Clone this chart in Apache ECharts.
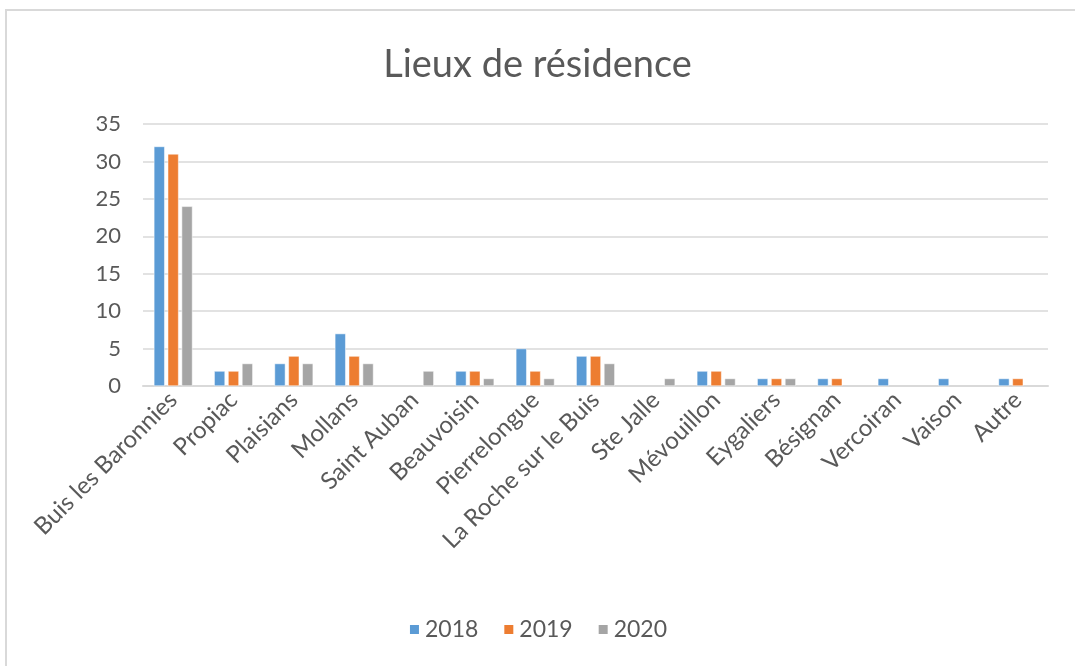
<!DOCTYPE html>
<html>
<head>
<meta charset="utf-8">
<script src="https://cdn.jsdelivr.net/npm/echarts@6/dist/echarts.min.js"></script>
<style>
  html, body { margin: 0; padding: 0; background: #fff; }
  #frame {
    position: absolute; left: 5px; top: 9px; width: 1070px; height: 657px;
    border-left: 2px solid #d9d9d9; border-top: 2px solid #d9d9d9;
  }
  #chart { position: absolute; left: 0; top: 0; width: 1075px; height: 666px; }
</style>
</head>
<body>
<div id="frame"></div>
<div id="chart"></div>
<script>
// données
const lieux = ['Buis les Baronnies', 'Propiac', 'Plaisians', 'Mollans', 'Saint Auban', 'Beauvoisin',
  'Pierrelongue', 'La Roche sur le Buis', 'Ste Jalle', 'Mévouillon', 'Eygaliers', 'Bésignan',
  'Vercoiran', 'Vaison', 'Autre']
const v2018 = [32, 2, 3, 7, null, 2, 5, 4, null, 2, 1, 1, 1, 1, 1]
const v2019 = [31, 2, 4, 4, null, 2, 2, 4, null, 2, 1, 1, null, null, 1]
const v2020 = [24, 3, 3, 3, 2, 1, 1, 3, 1, 1, 1, null, null, null, null]
const yTicks = [0, 5, 10, 15, 20, 25, 30, 35]

const font = 'Lato, "Open Sans", sans-serif'
const chart = echarts.init(document.getElementById('chart'))

const barStyle = (color) => ({ color: color, borderColor: '#fff', borderWidth: 0.5 })

chart.setOption({
  animation: false,
  textStyle: { fontFamily: font },
  title: {
    text: 'Lieux de résidence',
    left: 'center',
    top: 41,
    textStyle: { fontFamily: font, fontSize: 38, fontWeight: 'normal', color: '#595959' }
  },
  legend: {
    bottom: 20,
    left: 'center',
    itemWidth: 11,
    itemHeight: 11,
    itemGap: 24,
    icon: 'rect',
    textStyle: { fontFamily: font, fontSize: 23, color: '#595959' },
    data: ['2018', '2019', '2020']
  },
  grid: { left: 143, right: 27, top: 124, bottom: 280, containLabel: false },
  xAxis: {
    type: 'category',
    data: lieux,
    axisLine: { lineStyle: { color: '#d9d9d9', width: 2 } },
    axisTick: { show: false },
    axisLabel: {
      rotate: 45,
      interval: 0,
      margin: 10,
      fontFamily: font,
      fontSize: 24,
      color: '#595959'
    }
  },
  yAxis: {
    type: 'value',
    min: 0,
    max: 35,
    interval: 5,
    axisLine: { show: false },
    axisTick: { show: false },
    splitLine: { lineStyle: { color: '#d9d9d9', width: 1.5 } },
    axisLabel: {
      margin: 22,
      fontFamily: font,
      fontSize: 22,
      color: '#595959',
      formatter: (v) => (yTicks.includes(v) ? String(v) : '')
    }
  },
  series: [
    { name: '2018', type: 'bar', data: v2018, itemStyle: barStyle('#5b9bd5'), barGap: '28%', barCategoryGap: '36%' },
    { name: '2019', type: 'bar', data: v2019, itemStyle: barStyle('#ed7d31'), barGap: '28%', barCategoryGap: '36%' },
    { name: '2020', type: 'bar', data: v2020, itemStyle: barStyle('#a5a5a5'), barGap: '28%', barCategoryGap: '36%' }
  ]
})
</script>
</body>
</html>
